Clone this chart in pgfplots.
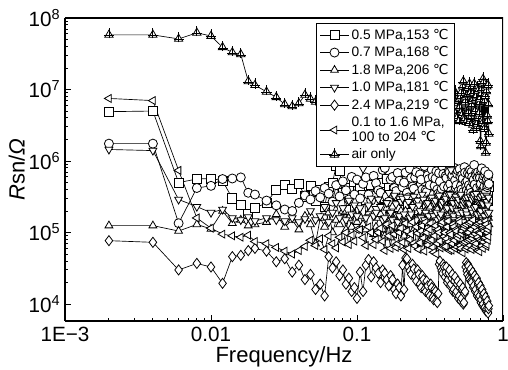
\documentclass[border=0pt]{standalone}
\usepackage{fontspec}
\setmainfont{Liberation Sans}
\newfontfamily\dvs{DejaVu Sans}
\usepackage{pgfplots}
\usepackage{pgfplotstable}
\pgfplotsset{compat=1.18}
\pgfdeclareplotmark{tricross}{%
  \pgfpathmoveto{\pgfqpoint{0pt}{\pgfplotmarksize}}%
  \pgfpathlineto{\pgfqpoint{-0.8660254\pgfplotmarksize}{-0.5\pgfplotmarksize}}%
  \pgfpathlineto{\pgfqpoint{0.8660254\pgfplotmarksize}{-0.5\pgfplotmarksize}}%
  \pgfpathclose
  \pgfusepathqfillstroke
  \pgfpathmoveto{\pgfqpoint{0pt}{-0.7\pgfplotmarksize}}%
  \pgfpathlineto{\pgfqpoint{0pt}{1.4\pgfplotmarksize}}%
  \pgfpathmoveto{\pgfqpoint{-1.05\pgfplotmarksize}{-0.15\pgfplotmarksize}}%
  \pgfpathlineto{\pgfqpoint{1.05\pgfplotmarksize}{-0.15\pgfplotmarksize}}%
  \pgfusepathqstroke
}
\pgfplotstableread{
f sq ci tu td di tl air
0.002 4.9e6 1.75e6 1.25e5 1.45e6 7.7e4 7.5e6 5.8e7
0.004 5.0e6 1.75e6 1.25e5 1.4e6 7.3e4 7.0e6 5.8e7
0.006 5.0e5 1.35e5 1.05e5 2.9e5 3.0e4 7.4e5 5.1e7
0.008 5.6e5 4.2e5 1.3e5 2.3e5 3.7e4 1.6e5 6.2e7
0.010 5.7e5 4.5e5 1.12e5 1.9e5 3.3e4 1.15e5 5.6e7
0.012 5.3e5 5.6e5 2.0e5 2.1e5 1.95e4 9.5e4 3.9e7
0.014 3.0e5 5.7e5 1.35e5 1.6e5 4.6e4 9.0e4 3.3e7
0.016 2.4e5 5.9e5 1.5e5 1.5e5 4.8e4 8.6e4 3.1e7
0.018 1.8e5 3.6e5 1.25e5 1.65e5 5.6e4 9.2e4 1.3e7
0.020 2.2e5 3.4e5 1.3e5 1.45e5 6.0e4 7.5e4 1.15e7
0.024 2.6e5 2.8e5 1.4e5 1.6e5 5.5e4 7.0e4 9.3e6
0.028 4.0e5 2.4e5 1.8e5 1.5e5 3.9e4 6.2e4 7.8e6
0.032 4.6e5 2.1e5 1.2e5 1.45e5 4.3e4 5.5e4 6.2e6
0.036 4.1e5 2.0e5 1.5e5 1.6e5 2.8e4 5.0e4 5.8e6
0.040 4.8e5 2.6e5 1.1e5 1.4e5 3.5e4 5.6e4 6.4e6
0.044 3.2e5 3.3e5 1.7e5 1.55e5 2.2e4 6.4e4 8.4e6
0.048 4.5e5 2.9e5 1.3e5 2.0e5 2.6e4 7.8e4 7.4e6
0.052 2.8e5 3.8e5 7.0e4 1.5e5 1.6e4 6.6e4 6.7e6
0.056 3.9e5 3.1e5 1.6e5 1.7e5 1.9e4 8.2e4 6.5e6
0.060 2.3e5 4.2e5 1.2e5 2.3e5 1.3e4 5.8e4 1.25e7
0.064 4.4e5 3.5e5 1.9e5 1.4e5 4.6e4 9.0e4 6.9e6
0.068 5.0e5 2.7e5 1.0e5 1.9e5 3.2e4 7.0e4 7.8e6
0.072 8.6e5 4.6e5 1.5e5 2.6e5 3.9e4 6.1e4 6.3e6
0.076 7.4e5 3.2e5 1.3e5 1.6e5 2.5e4 8.6e4 8.1e6
0.080 3.6e5 5.2e5 2.0e5 2.2e5 3.0e4 7.4e4 6.6e6
0.084 2.1e5 3.9e5 1.1e5 1.5e5 1.9e4 1.0e5 7.2e6
0.088 4.2e5 2.9e5 1.6e5 2.8e5 2.3e4 6.8e4 5.9e6
0.092 3.0e5 6.0e5 1.2e5 1.8e5 1.5e4 9.2e4 8.3e6
0.096 5.1e5 3.4e5 1.8e5 2.4e5 1.7e4 7.6e4 6.8e6
0.100 2.6e5 5.5e5 1.4e5 1.7e5 1.2e4 1.1e5 7.6e6
0.105 4.1e5 3.0e5 1.7e5 2.2e5 2.8e4 1.1e5 6.4e6
0.11 3.4e5 4.8e5 1.3e5 7.8e5 1.5e4 8.5e4 7.5e6
0.115 2.9e5 5.9e5 1.1e5 1.6e5 3.5e4 6.6e4 8.9e6
0.12 5.2e5 3.4e5 1.9e5 2.4e5 4.2e4 1.2e5 6.2e6
0.125 4.6e5 2.8e5 2.1e5 3.0e5 2.4e4 1.0e5 5.1e6
0.13 2.6e5 6.2e5 9.5e4 1.7e5 3.9e4 6.8e4 8.8e6
0.135 2.0e5 4.9e5 1.2e5 1.9e5 3.2e4 8.0e4 7.3e6
0.14 4.4e5 3.9e5 1.6e5 2.9e5 2.7e4 1.0e5 5.6e6
0.145 5.0e5 3.6e5 1.8e5 2.3e5 2.0e4 1.15e5 6.0e6
0.15 3.0e5 7.5e5 1.1e5 1.5e5 3.0e4 7.5e4 7.9e6
0.155 3.1e5 8.0e5 9.0e4 1.6e5 2.7e4 5.6e4 9.8e6
0.16 5.6e5 3.2e5 2.2e5 2.6e5 2.2e4 1.3e5 6.4e6
0.165 4.2e5 2.7e5 1.4e5 3.6e5 1.8e4 9.0e4 4.7e6
0.17 2.2e5 5.5e5 8.5e4 1.9e5 2.5e4 6.0e4 9.5e6
0.175 2.6e5 6.0e5 2.3e5 1.5e5 2.2e4 1.25e5 7.6e6
0.18 4.0e5 4.2e5 1.5e5 3.3e5 1.6e4 9.5e4 5.2e6
0.185 5.4e5 3.8e5 1.0e5 2.5e5 1.4e4 6.2e4 5.5e6
0.19 3.3e5 6.8e5 1.2e5 1.4e5 1.9e4 7.0e4 7.0e6
0.195 2.3e5 5.3e5 1.7e5 1.7e5 1.7e4 1.0e5 8.7e6
0.20 6.0e5 3.0e5 2.0e5 2.7e5 1.3e4 1.15e5 6.0e6
0.205 3.9e5 4.3e5 1.2e5 3.0e5 3.5e4 7.3e4 4.9e6
0.21 2.8e5 5.0e5 9.0e4 1.8e5 1.6e4 5.8e4 8.4e6
0.215 5.2e5 6.9e5 2.0e5 1.4e5 4.4e4 1.35e5 7.0e6
0.22 4.8e5 3.6e5 1.7e5 3.1e5 4.3e4 1.05e5 4.8e6
0.225 2.4e5 3.1e5 8.2e4 2.7e5 3.3e4 6.0e4 5.7e6
0.23 1.9e5 7.8e5 1.3e5 1.6e5 2.9e4 8.0e4 7.3e6
0.235 4.7e5 5.8e5 1.6e5 1.8e5 2.6e4 9.5e4 9.3e6
0.24 3.6e5 4.4e5 2.4e5 2.3e5 3.6e4 1.4e5 5.9e6
0.245 3.0e5 4.1e5 1.1e5 3.2e5 3.1e4 7.1e4 4.6e6
0.25 5.4e5 5.9e5 1.0e5 1.3e5 2.4e4 6.5e4 9.0e6
0.255 6.2e5 7.0e5 2.2e5 1.5e5 2.1e4 1.2e5 7.8e6
0.26 2.5e5 3.3e5 1.6e5 2.8e5 3.0e4 9.8e4 5.0e6
0.265 2.1e5 3.5e5 1.3e5 2.4e5 2.6e4 5.8e4 5.3e6
0.27 4.2e5 6.5e5 7.5e4 2.0e5 1.9e4 7.2e4 6.8e6
0.275 4.4e5 5.5e5 1.8e5 1.6e5 1.7e4 1.05e5 8.2e6
0.28 3.1e5 4.0e5 1.4e5 3.4e5 2.5e4 1.25e5 4.5e6
0.285 2.7e5 9.2e5 9.6e4 2.9e5 2.2e4 8.4e4 4.2e6
0.29 5.8e5 8.5e5 1.9e5 1.5e5 1.6e4 5.5e4 8.0e6
0.295 5.1e5 3.9e5 2.0e5 1.9e5 1.5e4 1.4e5 6.9e6
0.30 2.4e5 3.7e5 1.1e5 2.5e5 2.1e4 1.0e5 5.5e6
0.305 3.4e5 6.3e5 1.2e5 2.6e5 1.8e4 6.7e4 5.2e6
0.31 3.8e5 5.6e5 2.1e5 1.7e5 1.4e4 7.8e4 7.6e6
0.315 2.0e5 4.6e5 2.3e5 1.4e5 1.3e4 1.1e5 8.8e6
0.32 1.7e5 2.9e5 8.8e4 3.0e5 1.9e4 1.35e5 4.3e6
0.325 4.8e5 7.6e5 1.0e5 3.1e5 1.7e4 7.9e4 4.5e6
0.33 4.6e5 6.0e5 1.5e5 1.4e5 1.25e4 6.2e4 6.6e6
0.335 2.6e5 3.4e5 1.7e5 1.7e5 1.15e4 5.3e4 7.2e6
0.34 3.0e5 4.5e5 1.2e5 2.6e5 1.6e4 9.0e4 5.1e6
0.345 5.6e5 5.7e5 1.3e5 2.8e5 1.5e4 1.25e5 5.8e6
0.35 5.0e5 7.2e5 2.3e5 1.9e5 1.1e4 5.0e4 8.6e6
0.355 3.5e5 4.0e5 2.1e5 1.5e5 1.05e4 7.0e4 9.6e6
0.36 2.2e5 3.5e5 9.8e4 3.2e5 1.4e4 1.1e5 4.6e6
0.365 2.3e5 6.8e5 9.0e4 3.3e5 3.6e4 1.0e5 4.1e6
0.37 3.9e5 5.2e5 1.7e5 1.6e5 4.0e4 7.6e4 6.9e6
0.375 4.3e5 3.6e5 1.9e5 1.8e5 3.2e4 6.1e4 6.6e6
0.38 2.7e5 4.1e5 1.3e5 2.4e5 2.9e4 1.3e5 4.0e6
0.385 3.0e5 8.4e5 1.2e5 2.7e5 2.7e4 1.4e5 5.0e6
0.39 5.5e5 6.6e5 2.0e5 1.3e5 3.6e4 6.4e4 7.4e6
0.395 6.0e5 4.4e5 2.4e5 1.4e5 3.3e4 8.8e4 8.0e6
0.40 3.3e5 3.1e5 8.0e4 2.9e5 2.4e4 1.0e5 5.3e6
0.405 2.5e5 6.2e5 1.0e5 3.0e5 2.8e4 6.4e4 4.3e6
0.41 2.0e5 5.8e5 1.6e5 2.1e5 3.3e4 8.2e4 8.1e6
0.415 4.9e5 3.2e5 1.8e5 2.2e5 2.0e4 1.2e5 7.5e6
0.42 4.5e5 4.3e5 1.1e5 3.5e5 2.2e4 1.45e5 4.4e6
0.425 3.3e5 7.3e5 1.4e5 1.6e5 2.7e4 7.4e4 5.4e6
0.43 2.9e5 7.0e5 2.2e5 1.5e5 3.0e4 5.6e4 6.3e6
0.435 2.1e5 4.8e5 2.2e5 3.4e5 1.8e4 1.0e5 9.9e6
0.44 5.9e5 3.8e5 1.0e5 7.5e5 1.9e4 9.4e4 3.8e6
0.445 5.3e5 6.0e5 8.6e4 1.8e5 2.3e4 5.7e4 3.9e6
0.45 2.4e5 6.3e5 1.8e5 2.2e5 2.6e4 7.0e4 7.1e6
0.455 3.0e5 3.5e5 1.7e5 2.6e5 1.5e4 1.3e5 6.4e6
0.46 3.7e5 2.8e5 1.4e5 1.7e5 1.6e4 1.2e5 5.0e6
0.465 4.5e5 8.0e5 1.2e5 1.5e5 2.1e4 7.8e4 4.8e6
0.47 1.8e5 5.4e5 2.5e5 3.0e5 2.4e4 6.0e4 9.2e6
0.475 2.4e5 4.2e5 2.3e5 3.2e5 1.4e4 1.1e5 8.5e6
0.48 4.3e5 4.6e5 9.0e4 1.4e5 1.5e4 1.05e5 4.2e6
0.485 5.8e5 6.6e5 1.0e5 2.0e5 1.9e4 6.3e4 4.0e6
0.49 3.2e5 7.4e5 1.5e5 2.6e5 2.1e4 8.4e4 6.5e6
0.495 2.9e5 3.8e5 1.9e5 2.9e5 1.2e4 9.2e4 7.0e6
0.50 5.3e5 3.4e5 1.2e5 1.8e5 1.3e4 1.5e5 3.6e6
0.505 4.7e5 7.7e5 1.3e5 1.6e5 1.7e4 1.4e5 5.6e6
0.51 2.6e5 6.1e5 2.1e5 3.3e5 1.9e4 6.6e4 7.7e6
0.515 2.2e5 4.5e5 2.4e5 3.4e5 1.1e4 6.0e4 9.0e6
0.52 4.0e5 4.0e5 7.8e4 1.5e5 1.2e4 9.6e4 4.9e6
0.525 5.0e5 6.4e5 9.4e4 1.9e5 1.6e4 1.05e5 4.4e6
0.53 2.1e5 5.7e5 1.7e5 2.4e5 1.7e4 5.2e4 1.1e7
0.535 3.1e5 3.7e5 1.8e5 2.7e5 1.0e4 7.2e4 1.3e7
0.54 4.9e5 3.2e5 1.3e5 1.2e5 1.05e4 1.15e5 4.1e6
0.545 4.5e5 8.2e5 1.1e5 1.4e5 1.4e4 1.25e5 3.8e6
0.55 3.4e5 6.9e5 1.9e5 2.8e5 1.5e4 7.4e4 6.7e6
0.555 2.6e5 5.0e5 2.1e5 3.0e5 3.3e4 5.9e4 7.9e6
0.56 5.6e5 4.4e5 1.0e5 2.0e5 3.8e4 1.3e5 3.5e6
0.565 5.4e5 3.9e5 1.4e5 1.8e5 2.9e4 1.0e5 4.6e6
0.57 2.3e5 5.3e5 2.3e5 3.1e5 2.6e4 6.2e4 8.3e6
0.575 3.3e5 6.8e5 2.2e5 2.6e5 3.6e4 7.7e4 1.05e7
0.58 3.9e5 3.6e5 1.1e5 1.6e5 3.4e4 1.0e5 4.7e6
0.585 2.0e5 4.6e5 9.0e4 1.5e5 2.4e4 1.35e5 3.4e6
0.59 2.8e5 6.4e5 1.6e5 2.5e5 2.2e4 8.0e4 1.2e7
0.595 4.8e5 7.5e5 1.7e5 3.2e5 2.9e4 6.6e4 8.8e6
0.60 5.1e5 4.2e5 8.5e4 1.3e5 3.1e4 1.4e5 3.9e6
0.605 3.6e5 3.6e5 1.2e5 2.1e5 2.1e4 1.1e5 4.1e6
0.61 3.0e5 7.1e5 2.0e5 2.9e5 2.0e4 5.8e4 6.0e6
0.615 5.6e5 6.0e5 2.1e5 1.5e5 2.7e4 8.3e4 6.9e6
0.62 1.9e5 3.3e5 1.4e5 1.9e5 2.8e4 9.2e4 3.2e6
0.625 2.5e5 4.9e5 1.0e5 3.1e5 1.7e4 1.5e5 2.7e6
0.63 4.4e5 5.5e5 1.8e5 3.4e5 1.8e4 7.2e4 9.0e6
0.635 4.0e5 8.8e5 1.9e5 2.2e5 2.4e4 6.2e4 1.2e7
0.64 3.1e5 4.7e5 9.5e4 1.5e5 2.5e4 1.2e5 4.5e6
0.645 2.7e5 3.4e5 1.3e5 1.6e5 1.5e4 9.6e4 5.0e6
0.65 5.7e5 6.7e5 2.2e5 2.3e5 1.6e4 6.5e4 7.2e6
0.655 5.0e5 6.3e5 2.4e5 3.5e5 2.2e4 7.0e4 8.0e6
0.66 2.5e5 3.9e5 1.2e5 1.7e5 2.3e4 1.05e5 2.9e6
0.665 3.3e5 4.2e5 8.8e4 1.8e5 1.3e4 1.3e5 3.3e6
0.67 4.1e5 5.9e5 1.6e5 3.0e5 1.4e4 8.6e4 1.05e7
0.675 2.2e5 7.0e5 1.7e5 2.7e5 1.9e4 5.6e4 9.6e6
0.68 2.9e5 3.0e5 8.2e4 1.4e5 2.0e4 1.35e5 4.0e6
0.685 4.7e5 3.5e5 1.2e5 1.4e5 1.2e4 1.0e5 4.6e6
0.69 5.2e5 6.2e5 1.9e5 2.7e5 1.3e4 5.4e4 6.4e6
0.695 3.0e5 5.8e5 2.2e5 3.0e5 1.7e4 8.0e4 7.4e6
0.70 3.5e5 4.5e5 1.3e5 1.8e5 1.8e4 9.8e4 1.9e6
0.705 5.8e5 4.8e5 1.1e5 2.0e5 1.05e4 1.4e5 1.6e6
0.71 2.2e5 7.3e5 2.4e5 3.2e5 1.15e4 7.6e4 8.6e6
0.715 2.6e5 7.9e5 1.9e5 2.6e5 1.5e4 6.5e4 1.0e7
0.72 4.6e5 3.7e5 1.0e5 1.6e5 1.6e4 1.25e5 3.7e6
0.725 4.2e5 3.9e5 1.3e5 1.5e5 9.5e3 1.15e5 3.4e6
0.73 3.2e5 5.6e5 1.7e5 2.5e5 1.0e4 6.0e4 1.4e7
0.735 3.4e5 6.2e5 2.3e5 3.3e5 1.3e4 7.4e4 1.25e7
0.74 5.5e5 4.1e5 1.2e5 1.3e5 1.4e4 1.1e5 3.1e6
0.745 2.1e5 4.4e5 9.8e4 1.7e5 8.8e3 1.05e5 2.8e6
0.75 2.7e5 6.6e5 2.0e5 2.8e5 9.0e3 8.2e4 6.8e6
0.755 4.9e5 7.2e5 1.8e5 2.9e5 1.2e4 8.5e4 8.1e6
0.76 4.2e5 3.5e5 9.2e4 2.0e5 1.25e4 1.45e5 1.3e6
0.765 3.2e5 3.7e5 1.2e5 1.4e5 8.0e3 1.3e5 1.8e6
0.77 3.0e5 5.1e5 1.5e5 3.3e5 8.5e3 6.4e4 9.4e6
0.775 5.3e5 5.6e5 2.1e5 2.7e5 1.05e4 6.8e4 1.1e7
0.78 5.0e5 4.3e5 1.1e5 1.5e5 1.1e4 1.0e5 4.3e6
0.785 2.8e5 4.6e5 1.0e5 1.8e5 7.8e3 1.1e5 3.6e6
0.79 3.6e5 6.0e5 1.8e5 2.4e5 7.5e3 7.8e4 1.15e7
0.795 4.5e5 6.5e5 1.6e5 3.1e5 8.6e3 8.8e4 6.2e6
0.80 4.4e5 4.8e5 1.3e5 1.9e5 9.5e3 1.2e5 2.4e6
}\data
\begin{document}
\begin{tikzpicture}
\begin{axis}[
  at={(0,0)}, anchor=south west,
  scale only axis, width=328.5pt, height=227.25pt,
  xmode=log, ymode=log,
  xmin=1e-3, xmax=1, ymin=5.8e3, ymax=1e8,
  axis line style={line width=1.1pt},
  tick align=inside, axis x line*=bottom, axis y line*=left,
  major tick length=4.5pt, minor tick length=2.4pt,
  every tick/.style={black, line width=0.7pt},
  xtick={1e-3,1e-2,1e-1,1},
  xticklabels={1E−3,0.01,0.1,1},
  ytick={1e4,1e5,1e6,1e7,1e8},
  yticklabels={10\textsuperscript{4},10\textsuperscript{5},10\textsuperscript{6},10\textsuperscript{7},10\textsuperscript{8}},
  tick label style={font=\fontsize{15.5}{17}\selectfont},
  xticklabel style={yshift=-1pt},
  xlabel={Frequency/Hz}, ylabel={\textit{R}sn/\textit{Ω}},
  label style={font=\fontsize{16.5}{18}\selectfont},
  xlabel style={yshift=3pt},
  ylabel style={yshift=-4pt},
  every axis plot/.append style={black, line width=0.5pt, mark size=3.4pt, mark options={fill=white, solid, line width=0.6pt}},
  legend image code/.code={\draw[mark repeat=2,mark phase=2,#1] plot coordinates {(0cm,0cm) (0.37cm,0cm) (0.74cm,0cm)};},
  legend style={at={(0.574,0.985)}, anchor=north west, draw=black, line width=0.6pt,
    font=\fontsize{10.3}{11.5}\selectfont, cells={anchor=west, align=left}, row sep=0pt, inner sep=2.5pt},
  legend cell align=left,
]
\addplot[mark=square*] table[x=f,y=sq]{\data};
\addlegendentry{0.5 MPa,153 {\dvs ℃}}
\addplot[mark=*] table[x=f,y=ci]{\data};
\addlegendentry{0.7 MPa,168 {\dvs ℃}}
\addplot[mark=triangle*] table[x=f,y=tu]{\data};
\addlegendentry{1.8 MPa,206 {\dvs ℃}}
\addplot[mark=triangle*, mark options={fill=white, solid, line width=0.6pt, rotate=180}] table[x=f,y=td]{\data};
\addlegendentry{1.0 MPa,181 {\dvs ℃}}
\addplot[mark=diamond*, mark size=3.8pt] table[x=f,y=di]{\data};
\addlegendentry{2.4 MPa,219 {\dvs ℃}}
\addplot[mark=triangle*, mark options={fill=white, solid, line width=0.6pt, rotate=90}] table[x=f,y=tl]{\data};
\addlegendentry{0.1 to 1.6 MPa,\\100 to 204 {\dvs ℃}}
\addplot[mark=tricross, mark size=3.6pt] table[x=f,y=air]{\data};
\addlegendentry{air only}
\draw[line width=1.1pt] (rel axis cs:0,1) -- (rel axis cs:1,1) -- (rel axis cs:1,0);
\end{axis}
\pgfresetboundingbox
\path[use as bounding box] (-48.75pt,-36.75pt) rectangle (332.25pt,240.75pt);
\end{tikzpicture}
\end{document}
